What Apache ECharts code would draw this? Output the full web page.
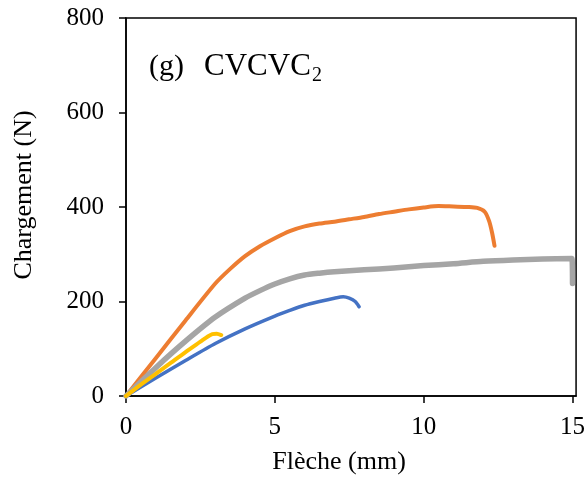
<!DOCTYPE html>
<html><head><meta charset="utf-8">
<script src="https://cdn.jsdelivr.net/npm/echarts@6/dist/echarts.min.js"></script>
<style>html,body{margin:0;padding:0;background:#fff}#c{width:588px;height:477px}</style>
</head><body><div id="c"></div>
<script>
const xTicks = [0, 5, 10, 15];
const yTicks = [0, 200, 400, 600, 800];
const xTitle = 'Flèche (mm)';
const yTitle = 'Chargement (N)';
const panelLabel = '(g)';
const specimen = 'CVCVC';
const specimenSub = '2';

const blueSeries = [[0,0],[1,38],[2,75],[3,111],[4,142],[5,169],[5.5,181],[6,192],[6.5,200],[7,207],[7.3,210],[7.5,207],[7.7,200],[7.83,189]];
const orangeSeries = [[0,0],[1,80],[2,160],[3,238],[3.5,269],[4,296],[4.5,317],[5,334],[5.5,349],[6,359],[6.5,365],[7,369],[7.5,374],[8,379],[8.5,385],[9,390],[9.5,395],[10,399],[10.5,402],[11,401],[11.5,400],[11.8,398],[12.05,390],[12.2,370],[12.3,345],[12.38,318]];
const graySeries = [[0,0],[1,60],[2,116],[3,167],[4,207],[4.5,223],[5,237],[5.5,248],[6,256],[6.5,260],[7,263],[8,267],[9,271],[10,276],[11,280],[12,285],[13,288],[14,290],[14.98,291],[15,238]];
const yellowSeries = [[0,0],[0.5,24],[1,47],[1.5,70],[2,93],[2.5,115],[2.75,126],[2.9,131],[3.05,132],[3.2,129]];

const FONT = '"Liberation Serif", "Times New Roman", serif';
const chart = echarts.init(document.getElementById('c'), null, {renderer: 'canvas'});
function line(data, color, width) {
  return {type: 'line', data: data, showSymbol: false, symbol: 'none', smooth: 0.25,
    lineStyle: {color: color, width: width, join: 'round', cap: 'round'}, itemStyle: {color: color}, animation: false, z: 2};
}
chart.setOption({
  animation: false,
  backgroundColor: '#fff',
  grid: {left: 126, right: 11, top: 18, bottom: 81, show: true, borderColor: '#000', borderWidth: 1.5, backgroundColor: 'transparent'},
  xAxis: {
    type: 'value', min: 0, max: 15.12, interval: 5,
    axisLine: {show: true, onZero: false, lineStyle: {color: '#000', width: 1.5}},
    axisTick: {show: true, inside: false, length: 7, lineStyle: {color: '#000', width: 1.5}, customValues: xTicks},
    axisLabel: {customValues: xTicks, margin: 19, fontFamily: FONT, fontSize: 25, color: '#000'},
    splitLine: {show: false}
  },
  yAxis: {
    type: 'value', min: 0, max: 800, interval: 200,
    axisLine: {show: true, onZero: false, lineStyle: {color: '#000', width: 1.5}},
    axisTick: {show: true, inside: false, length: 7, lineStyle: {color: '#000', width: 1.5}},
    axisLabel: {margin: 22, fontFamily: FONT, fontSize: 25, color: '#000', customValues: yTicks},
    splitLine: {show: false}
  },
  graphic: [
    {type: 'text', x: 339, y: 462, style: {text: xTitle, font: '26px ' + FONT, fill: '#000', align: 'center', verticalAlign: 'middle'}},
    {type: 'text', x: 24, y: 195, rotation: Math.PI / 2, style: {text: yTitle, font: '26px ' + FONT, fill: '#000', align: 'center', verticalAlign: 'middle'}},
    {type: 'text', x: 149, y: 67, style: {text: panelLabel, font: '30px ' + FONT, fill: '#000', align: 'left', verticalAlign: 'middle'}},
    {type: 'text', x: 204, y: 67, style: {text: specimen, font: '31px ' + FONT, fill: '#000', align: 'left', verticalAlign: 'middle'}},
    {type: 'text', x: 312, y: 76, style: {text: specimenSub, font: '20px ' + FONT, fill: '#000', align: 'left', verticalAlign: 'middle'}}
  ],
  series: [
    line(blueSeries, '#4472C4', 3.5),
    line(orangeSeries, '#ED7D31', 4),
    line(graySeries, '#A5A5A5', 5.5),
    line(yellowSeries, '#FFC000', 4)
  ]
});
</script></body></html>
